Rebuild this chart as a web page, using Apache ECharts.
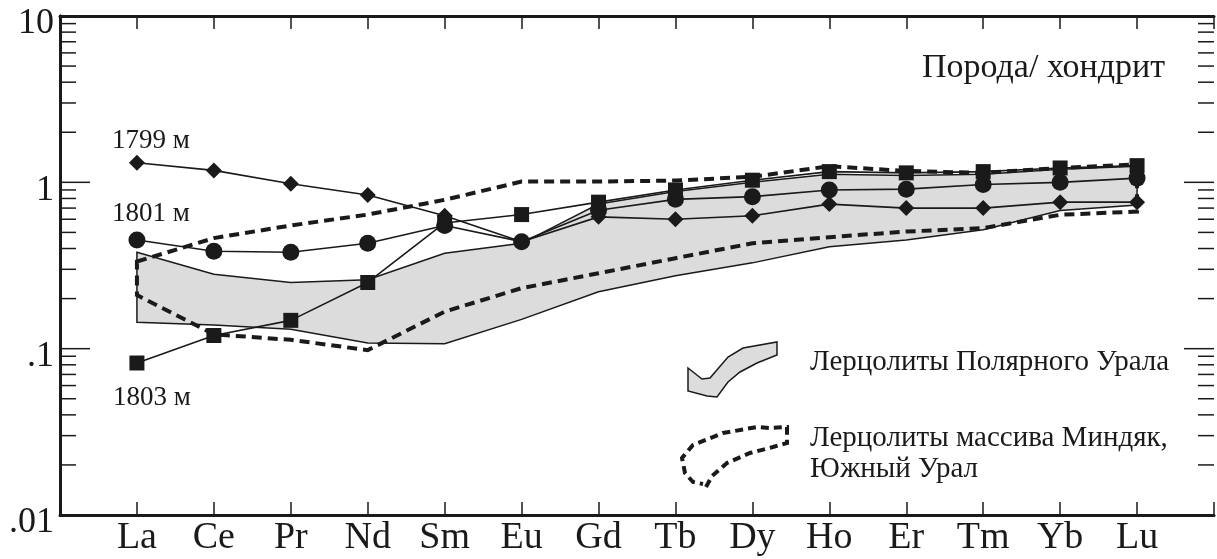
<!DOCTYPE html>
<html>
<head>
<meta charset="utf-8">
<script src="https://cdn.jsdelivr.net/npm/echarts@6/dist/echarts.min.js"></script>
<style>
  html, body { margin: 0; padding: 0; background: #fff; }
  #chart { width: 1217px; height: 559px; }
</style>
</head>
<body>
<div id="chart"></div>
<script>
// elements (x axis)
var elements = ['La', 'Ce', 'Pr', 'Nd', 'Sm', 'Eu', 'Gd', 'Tb', 'Dy', 'Ho', 'Er', 'Tm', 'Yb', 'Lu'];

// samples, rock / chondrite
var s1799 = [1.31, 1.18, 0.98, 0.84, 0.63, 0.44, 0.62, 0.60, 0.63, 0.74, 0.70, 0.70, 0.76, 0.76];
var s1801 = [0.45, 0.385, 0.38, 0.43, 0.55, 0.44, 0.68, 0.79, 0.82, 0.90, 0.91, 0.97, 1.00, 1.06];
var s1803 = [0.082, 0.12, 0.148, 0.25, 0.57, 0.64, 0.76, 0.90, 1.03, 1.16, 1.14, 1.16, 1.22, 1.26];

// Polar Urals lherzolites field (grey)
var polarUpper = [0.38, 0.28, 0.25, 0.26, 0.375, 0.43, 0.74, 0.88, 1.0, 1.12, 1.10, 1.12, 1.20, 1.25];
var polarLower = [0.144, 0.139, 0.131, 0.108, 0.107, 0.15, 0.22, 0.274, 0.328, 0.41, 0.45, 0.518, 0.677, 0.73];

// Mindyak massif lherzolites field (dashed)
var mindUpper = [0.334, 0.462, 0.55, 0.64, 0.785, 1.01, 1.01, 1.025, 1.08, 1.25, 1.17, 1.14, 1.22, 1.28];
var mindLower = [0.21, 0.122, 0.113, 0.098, 0.167, 0.231, 0.284, 0.35, 0.43, 0.468, 0.506, 0.53, 0.638, 0.667];

// log axis ticks
var majorTicks = [0.1, 1];
var minorTicks = [0.02, 0.03, 0.04, 0.05, 0.06, 0.07, 0.08, 0.09,
                  0.2, 0.3, 0.4, 0.5, 0.6, 0.7, 0.8, 0.9,
                  2, 3, 4, 5, 6, 7, 8, 9];

var ink = '#1a1a1a';
var serif = '"Liberation Serif", "DejaVu Serif", serif';

function toPts(arr) {
	return arr.map(function (v, i) { return [i + 1, v]; });
}

function fieldSeries(upper, lower, style, z) {
	return {
		type: 'custom',
		z: z,
		silent: true,
		data: [[1, upper[0]]],
		renderItem: function (params, api) {
			var pts = [];
			for (var i = 0; i < upper.length; i++) pts.push(api.coord([i + 1, upper[i]]));
			for (var j = lower.length - 1; j >= 0; j--) pts.push(api.coord([j + 1, lower[j]]));
			return { type: 'polygon', shape: { points: pts }, style: style };
		}
	};
}

// y ticks on both sides, pointing inwards
function tickSeries(values, len) {
	return {
		type: 'custom',
		z: 3,
		silent: true,
		clip: false,
		data: values.map(function (v) { return [0, v]; }),
		renderItem: function (params, api) {
			var l = api.coord([0, api.value(1)]);
			var r = api.coord([15, api.value(1)]);
			return {
				type: 'group',
				children: [
					{ type: 'line', shape: { x1: l[0], y1: l[1], x2: l[0] + len, y2: l[1] }, style: { stroke: ink, lineWidth: 1.5 } },
					{ type: 'line', shape: { x1: r[0] - len, y1: r[1], x2: r[0], y2: r[1] }, style: { stroke: ink, lineWidth: 1.5 } }
				]
			};
		}
	};
}

function sampleSeries(name, data, symbol, size) {
	return {
		name: name,
		type: 'line',
		z: 5,
		data: toPts(data),
		symbol: symbol,
		symbolSize: size,
		showAllSymbol: true,
		lineStyle: { color: ink, width: 1.6 },
		itemStyle: { color: ink }
	};
}

var xAxisBase = {
	type: 'value',
	min: 0,
	max: 15,
	interval: 1,
	splitLine: { show: false },
	axisLine: { lineStyle: { color: ink, width: 3 } },
	axisTick: { inside: true, length: 13, lineStyle: { color: ink, width: 1.5 } }
};

var yAxisBase = {
	type: 'log',
	logBase: 10,
	min: 0.01,
	max: 10,
	splitLine: { show: false },
	axisLine: { show: true, lineStyle: { color: ink, width: 3 } },
	axisTick: { show: false }
};

var myChart = echarts.init(document.getElementById('chart'));

var option = {
	animation: false,
	backgroundColor: '#fff',
	grid: { left: 60, right: 3, top: 16, bottom: 44 }
};

option.xAxis = [
	Object.assign({}, xAxisBase, {
		position: 'bottom',
		axisLabel: {
			color: ink, fontFamily: serif, fontSize: 38, margin: 4,
			formatter: function (v) { return elements[v - 1] || ''; }
		}
	}),
	Object.assign({}, xAxisBase, { position: 'top', axisLabel: { show: false } })
];

option.yAxis = [
	Object.assign({}, yAxisBase, {
		position: 'left',
		axisLabel: {
			color: ink, fontFamily: serif, fontSize: 36, margin: 6,
			verticalAlign: 'top', lineHeight: 16,
			formatter: function (v) {
				var s = String(Number(v.toPrecision(3)));
				return s.replace(/^0\./, '.');
			}
		}
	}),
	Object.assign({}, yAxisBase, { position: 'right', axisLabel: { show: false } })
];

option.series = [
	fieldSeries(polarUpper, polarLower, { fill: '#dcdcdc', stroke: ink, lineWidth: 1.5 }, 1),
	fieldSeries(mindUpper, mindLower, { fill: 'none', stroke: ink, lineWidth: 4, lineDash: [10, 6] }, 2),
	tickSeries(minorTicks, 16),
	tickSeries(majorTicks, 30),
	sampleSeries('1799 м', s1799, 'diamond', 16),
	sampleSeries('1801 м', s1801, 'circle', 17),
	sampleSeries('1803 м', s1803, 'rect', 15)
];

function label(text, x, y, size) {
	return {
		type: 'text', x: x, y: y, z: 10,
		style: { text: text, fill: ink, fontFamily: serif, fontSize: size, verticalAlign: 'middle' }
	};
}

option.graphic = [
	label('1799 м', 112, 141, 27),
	label('1801 м', 112, 214, 27),
	label('1803 м', 113, 398, 27),
	label('Порода/ хондрит', 922, 68, 34),
	label('Лерцолиты Полярного Урала', 810, 362, 29),
	label('Лерцолиты массива Миндяк,', 810, 438, 29),
	label('Южный Урал', 810, 469, 29),
	{
		type: 'polygon', z: 10,
		shape: { points: [[688, 368], [702, 379], [710, 378], [728, 357], [743, 348], [777, 342], [777, 355], [757, 363], [740, 372], [728, 382], [717, 397], [707, 396], [688, 391]] },
		style: { fill: '#dcdcdc', stroke: ink, lineWidth: 1.5 }
	},
	{
		type: 'polyline', z: 10,
		shape: { points: [[706, 487], [712, 476], [727, 463], [750, 453], [773, 447], [787, 443], [787, 427], [770, 428], [757, 427], [723, 433], [693, 445], [682, 458], [685, 473], [693, 482], [703, 484]] },
		style: { fill: 'none', stroke: ink, lineWidth: 4, lineDash: [8, 5] }
	}
];

myChart.setOption(option);
</script>
</body>
</html>
